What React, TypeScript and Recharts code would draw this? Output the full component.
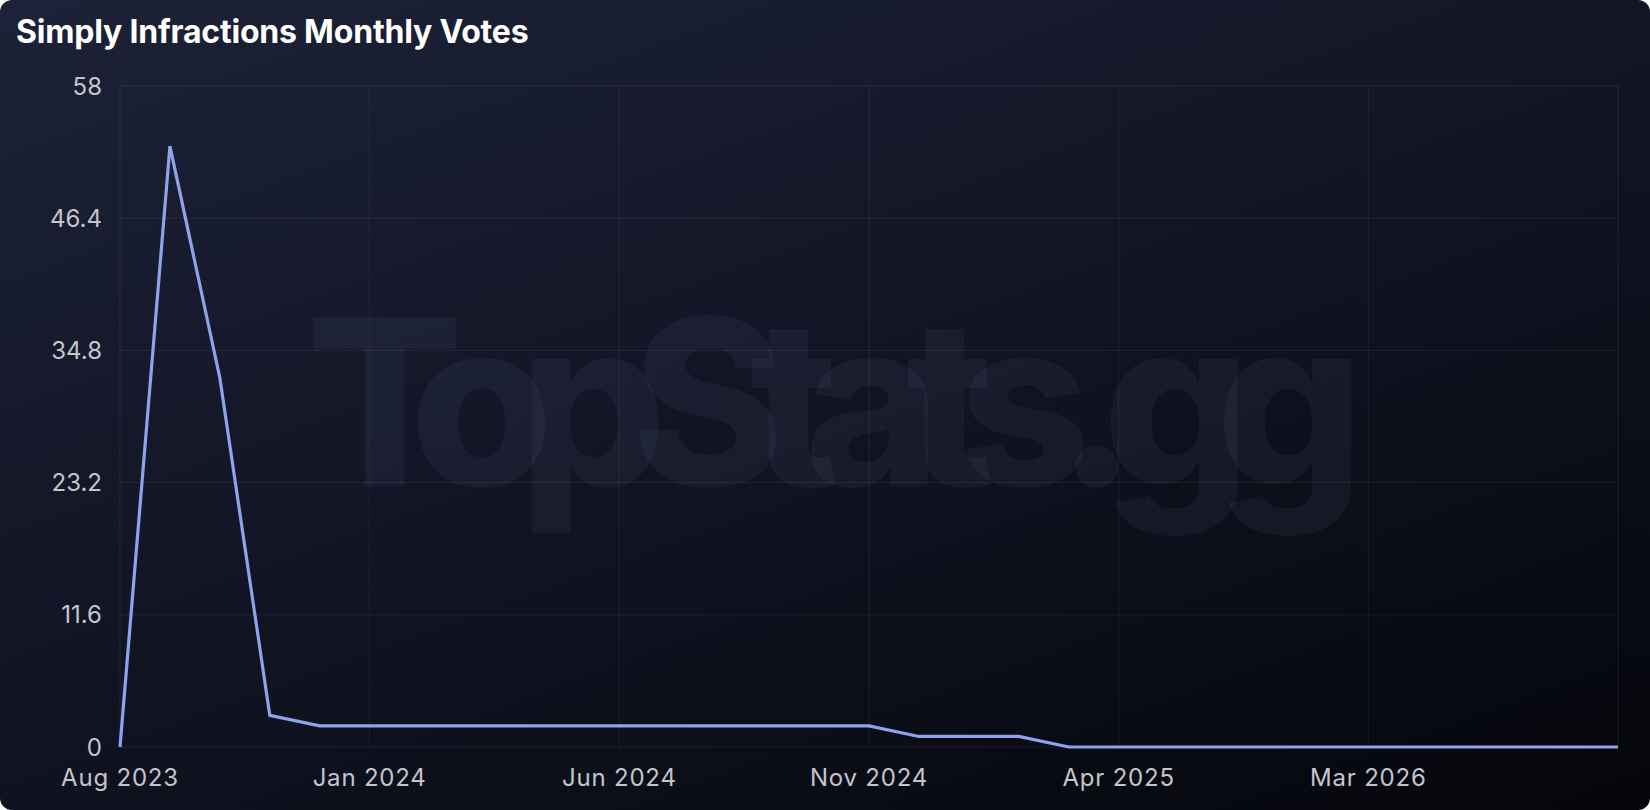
import { LineChart, Line, XAxis, YAxis, CartesianGrid } from 'recharts'

const months = [
  'Aug 2023', 'Sep 2023', 'Oct 2023', 'Nov 2023', 'Dec 2023',
  'Jan 2024', 'Feb 2024', 'Mar 2024', 'Apr 2024', 'May 2024',
  'Jun 2024', 'Jul 2024', 'Aug 2024', 'Sep 2024', 'Oct 2024',
  'Nov 2024', 'Dec 2024', 'Jan 2025', 'Feb 2025', 'Mar 2025',
  'Apr 2025', 'Jun 2025', 'Aug 2025', 'Oct 2025', 'Dec 2025',
  'Mar 2026', 'Apr 2026', 'May 2026', 'Jun 2026', 'Jul 2026',
  'Aug 2026',
]

const votes = [
  0, 57, 35, 3, 2,
  2, 2, 2, 2, 2,
  2, 2, 2, 2, 2,
  2, 1, 1, 1, 0,
  0, 0, 0, 0, 0,
  0, 0, 0, 0, 0,
  0,
]

const xTicks = ['Aug 2023', 'Jan 2024', 'Jun 2024', 'Nov 2024', 'Apr 2025', 'Mar 2026', 'Aug 2026']
const yTicks = [0, 11.6, 23.2, 34.8, 46.4, 58]

const data = months.map((month, i) => ({ month, votes: votes[i] }))

const font = 'Inter, "Noto Sans", sans-serif'

export default function App() {
  return (
    <div
      style={{
        position: 'absolute',
        top: 0,
        left: 0,
        width: 1650,
        height: 810,
        borderRadius: 12,
        overflow: 'hidden',
        background: 'linear-gradient(160deg, #1d2238 0%, #111423 50%, #05060b 100%)',
        fontFamily: font,
      }}
    >
      <div
        style={{
          position: 'absolute',
          left: 16,
          top: 12,
          color: '#ffffff',
          fontSize: 32,
          fontWeight: 700,
          letterSpacing: -0.2,
          lineHeight: 'normal',
        }}
      >
        Simply Infractions Monthly Votes
      </div>
      {/* watermark */}
      <div
        style={{
          position: 'absolute',
          left: 306,
          top: 286,
          color: 'rgba(140,150,200,0.07)',
          fontSize: 232,
          fontWeight: 800,
          letterSpacing: -35,
          lineHeight: 1,
          whiteSpace: 'nowrap',
        }}
      >
        TopStats.gg
      </div>
      <div style={{ position: 'absolute', top: 0, left: 0 }}>
        <LineChart
          width={1650}
          height={810}
          data={data}
          margin={{ top: 86, right: 32, bottom: 23, left: 0 }}
        >
          <CartesianGrid stroke="rgba(255,255,255,0.07)" strokeWidth={1} />
          <XAxis
            dataKey="month"
            ticks={xTicks}
            tickFormatter={(v) => (v === 'Aug 2026' ? '' : v)}
            axisLine={false}
            tickLine={false}
            tickSize={0}
            tickMargin={22}
            height={40}
            tick={{ fill: '#c4c5cc', fontSize: 24, fontFamily: font, letterSpacing: 0.8 }}
          />
          <YAxis
            type="number"
            domain={[0, 58]}
            allowDataOverflow
            ticks={yTicks}
            axisLine={false}
            tickLine={false}
            tickSize={0}
            tickMargin={18}
            width={120}
            tick={{ fill: '#c4c5cc', fontSize: 24, fontFamily: font }}
          />
          {/* line uses its own scale: top of range is 10% above the peak */}
          <YAxis yAxisId="v" hide domain={[0, (max: number) => max * 1.1]} />
          <Line
            yAxisId="v"
            type="linear"
            dataKey="votes"
            stroke="#8ea3eb"
            strokeWidth={3.2}
            dot={false}
            activeDot={false}
            isAnimationActive={false}
          />
        </LineChart>
      </div>
    </div>
  )
}
